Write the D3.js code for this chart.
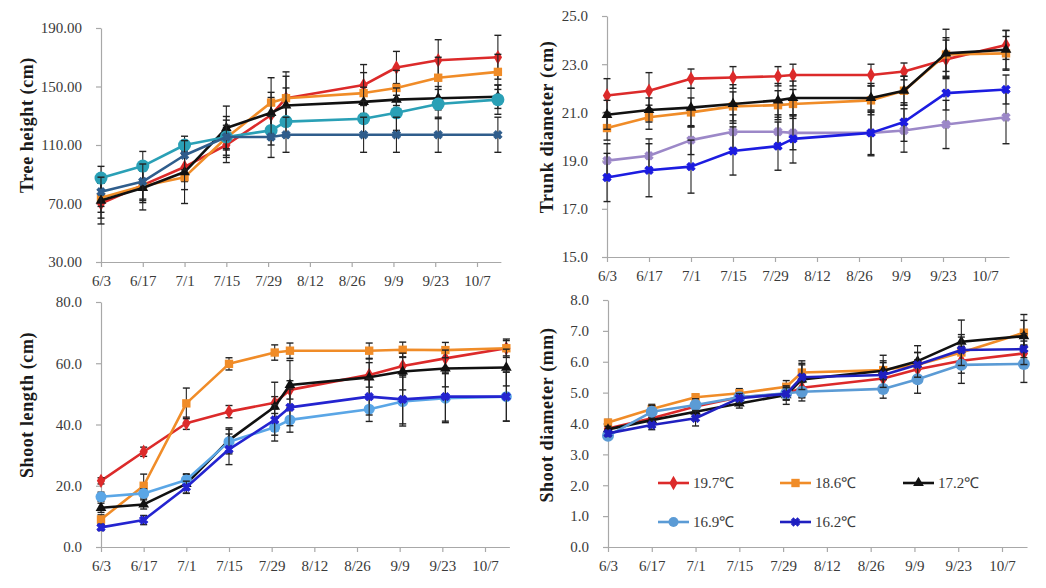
<!DOCTYPE html>
<html><head><meta charset="utf-8">
<script src="https://cdn.jsdelivr.net/npm/d3@7/dist/d3.min.js"></script>
<style>
html,body{margin:0;padding:0;background:#fff;}
svg{display:block;font-family:"Liberation Serif","Times New Roman",serif;}
</style></head>
<body><svg id="chart" width="1046" height="588"></svg>
<script>
// ---------- data ----------
const sampleDays = [0, 14, 28, 42, 57, 62, 88, 99, 113, 133]; // days after 6/3
const tickDays = [0, 14, 28, 42, 56, 70, 84, 98, 112, 126];
const tickLabels = ["6/3", "6/17", "7/1", "7/15", "7/29", "8/12", "8/26", "9/9", "9/23", "10/7"];
const seriesNames = ["19.7℃", "18.6℃", "17.2℃", "16.9℃", "16.2℃"];

const treeHeightMean = [
  [70, 82.6, 95, 110, 130.5, 142, 151, 163, 168, 170],
  [74, 82, 88, 115, 139, 142, 145.5, 149, 156, 160],
  [72, 80.6, 91.5, 121.6, 132, 137, 139.5, 141, 142, 143],
  [87.4, 95.6, 110, 115.5, 120, 126, 128, 132, 138, 141],
  [78, 85, 103, 115.5, 115.5, 117, 117, 117, 117, 117]
];
const treeHeightSD = [
  [14, 12, 10, 12, 12, 15, 14, 11, 14, 15],
  [10, 10, 18, 12, 17, 18, 14, 12, 14, 12],
  [12, 15, 12, 15, 14, 12, 10, 8, 8, 8],
  [8, 10, 6, 8, 10, 10, 12, 12, 10, 10],
  [10, 12, 10, 14, 14, 12, 12, 12, 12, 12]
];
const trunkDiaMean = [
  [21.7, 21.9, 22.4, 22.45, 22.5, 22.55, 22.55, 22.7, 23.2, 23.8],
  [20.35, 20.8, 21.0, 21.25, 21.3, 21.35, 21.5, 21.9, 23.4, 23.45],
  [20.9, 21.1, 21.2, 21.35, 21.5, 21.6, 21.6, 21.9, 23.45, 23.6],
  [19.0, 19.2, 19.85, 20.2, 20.2, 20.15, 20.15, 20.25, 20.5, 20.8],
  [18.3, 18.6, 18.75, 19.4, 19.6, 19.9, 20.15, 20.6, 21.8, 21.95]
];
const trunkDiaSD = [
  [0.7, 0.75, 0.4, 0.45, 0.4, 0.45, 0.45, 0.35, 0.8, 0.6],
  [0.5, 0.5, 0.6, 0.6, 0.6, 0.6, 0.6, 0.6, 0.7, 0.7],
  [0.6, 0.5, 0.8, 0.8, 0.7, 0.7, 0.6, 0.6, 1.0, 0.8],
  [0.7, 0.7, 0.6, 0.7, 0.7, 0.7, 0.9, 0.9, 1.0, 1.1],
  [1.0, 1.1, 1.1, 1.0, 1.0, 1.0, 0.95, 0.8, 0.7, 0.6]
];
const shootLenMean = [
  [21.6, 31.1, 40.4, 44.2, 47.1, 51.3, 56.2, 59.1, 61.6, 64.9],
  [9.0, 20.0, 46.9, 59.8, 63.5, 64.1, 64.1, 64.4, 64.3, 64.9],
  [12.8, 13.9, 20.6, 34.9, 45.8, 52.9, 55.4, 57.3, 58.3, 58.6],
  [16.4, 17.5, 21.9, 34.4, 39.1, 41.5, 45.0, 47.5, 48.6, 49.1],
  [6.4, 8.8, 19.5, 31.9, 41.5, 45.6, 49.1, 48.2, 49.1, 49.1]
];
const shootLenSD = [
  [1, 1.5, 2, 2, 2, 3, 4, 3, 3, 3],
  [1.5, 3.8, 5, 2, 2.5, 2.5, 2.5, 2.5, 2.5, 2.5],
  [1.5, 1.5, 3, 4, 8, 8, 6, 6, 6, 6],
  [1.5, 1.5, 2, 4, 4.5, 4, 4, 8, 8, 8],
  [1, 1.5, 2, 5, 5, 6, 6, 8, 8, 8]
];
const shootDiaMean = [
  [3.84, 4.17, 4.55, 4.85, 4.96, 5.16, 5.46, 5.76, 6.03, 6.27],
  [4.03, 4.47, 4.85, 4.98, 5.19, 5.65, 5.73, 5.9, 6.3, 6.94],
  [3.81, 4.11, 4.38, 4.65, 4.92, 5.43, 5.71, 6.02, 6.65, 6.83],
  [3.6, 4.38, 4.6, 4.85, 4.98, 5.03, 5.12, 5.43, 5.9, 5.93],
  [3.68, 3.95, 4.17, 4.82, 4.96, 5.5, 5.57, 5.9, 6.38, 6.41]
];
const shootDiaSD = [
  [0.1, 0.15, 0.15, 0.15, 0.2, 0.3, 0.3, 0.3, 0.4, 0.4],
  [0.1, 0.15, 0.1, 0.15, 0.2, 0.3, 0.3, 0.4, 0.5, 0.4],
  [0.1, 0.15, 0.15, 0.15, 0.3, 0.6, 0.5, 0.5, 0.7, 0.7],
  [0.1, 0.2, 0.2, 0.15, 0.2, 0.3, 0.3, 0.45, 0.6, 0.6],
  [0.1, 0.15, 0.25, 0.15, 0.2, 0.4, 0.4, 0.4, 0.5, 0.5]
];
const treeHeightTicks = [30, 70, 110, 150, 190];
const trunkDiaTicks = [15, 17, 19, 21, 23, 25];
const shootLenTicks = [0, 20, 40, 60, 80];
const shootDiaTicks = [0, 1, 2, 3, 4, 5, 6, 7, 8];

// ---------- styling ----------
const markers = ["diamond", "square", "triangle", "circle", "x"];

const panels = [
  {title: "Tree height (cm)", mean: treeHeightMean, sd: treeHeightSD, ticks: treeHeightTicks, fmt: ".2f",
   x0: 101, x126: 477, yTop: 28, yBot: 262, titleX: 27, titleY: 125,
   colors: ["#dc2a2a", "#f08c28", "#111111", "#2aa0b6", "#2f5d8c"], markers: markers, circleR: 6.5},
  {title: "Trunk diameter (cm)", mean: trunkDiaMean, sd: trunkDiaSD, ticks: trunkDiaTicks, fmt: ".1f",
   x0: 607, x126: 985, yTop: 16, yBot: 257, titleX: 547, titleY: 127,
   colors: ["#dc2a2a", "#f08c28", "#111111", "#9c88c8", "#1c1ce0"], markers: ["diamond","square","triangle","x","x"], circleR: 5},
  {title: "Shoot length (cm)", mean: shootLenMean, sd: shootLenSD, ticks: shootLenTicks, fmt: ".1f",
   x0: 101, x126: 485, yTop: 302, yBot: 547, titleX: 27, titleY: 405,
   colors: ["#dc2a2a", "#f08c28", "#111111", "#5aa6e6", "#2424d0"], markers: markers, circleR: 5.5},
  {title: "Shoot diameter (mm)", mean: shootDiaMean, sd: shootDiaSD, ticks: shootDiaTicks, fmt: ".1f",
   x0: 608, x126: 1002, yTop: 300, yBot: 547, titleX: 547, titleY: 415,
   colors: ["#dc2a2a", "#f08c28", "#111111", "#5b9bd5", "#2020c0"], markers: markers, circleR: 6}
];

const svg = d3.select("#chart");

function symbolPath(type, r) {
  const map = {diamond: d3.symbolDiamond, square: d3.symbolSquare, triangle: d3.symbolTriangle,
               circle: d3.symbolCircle, x: d3.symbolCross};
  const size = {diamond: 60, square: 70, triangle: 50, circle: Math.PI * r * r, x: 40}[type];
  return d3.symbol(map[type], size)();
}

panels.forEach((p, pi) => {
  const g = svg.append("g");
  const pxPerDay = (p.x126 - p.x0) / 126;
  const x = d3.scaleLinear().domain([0, 134]).range([p.x0, p.x0 + 134 * pxPerDay]);
  const ext = d3.extent(p.ticks);
  const y = d3.scaleLinear().domain(ext).range([p.yBot, p.yTop]);

  // axes
  const xAxis = d3.axisBottom(x).tickValues(tickDays).tickFormat((d, i) => tickLabels[i])
    .tickSizeInner(5).tickSizeOuter(0).tickPadding(8);
  const gx = g.append("g").attr("transform", `translate(0,${p.yBot})`).call(xAxis);
  const yAxis = d3.axisLeft(y).tickValues(p.ticks).tickFormat(d3.format(p.fmt))
    .tickSizeInner(5).tickSizeOuter(0).tickPadding(14);
  const gy = g.append("g").attr("transform", `translate(${p.x0},0)`).call(yAxis);
  [gx, gy].forEach(a => {
    a.select(".domain").attr("stroke", "#a8a8a8").attr("stroke-width", 1.2);
    a.selectAll(".tick line").attr("stroke", "#a8a8a8").attr("stroke-width", 1.2);
    a.selectAll(".tick text").attr("fill", "#3a3a3a").attr("font-size", 15)
      .attr("font-family", "'Liberation Serif', serif");
  });

  // title
  g.append("text").attr("transform", `translate(${p.titleX},${p.titleY}) rotate(-90)`)
    .attr("text-anchor", "middle").attr("dominant-baseline", "central")
    .attr("font-size", 18).attr("font-weight", "bold").attr("letter-spacing", 0.6).attr("fill", "#1a1a1a")
    .text(p.title);

  const line = d3.line().x((d, i) => x(sampleDays[i])).y(d => y(d));

  p.mean.forEach((vals, si) => {
    const col = p.colors[si];
    const sg = g.append("g");
    sg.append("path").datum(vals).attr("d", line).attr("fill", "none")
      .attr("stroke", col).attr("stroke-width", 2.6).attr("stroke-linejoin", "round");
    // error bars
    const eb = sg.selectAll(".eb").data(vals).enter().append("g");
    eb.append("line").attr("x1", (d, i) => x(sampleDays[i])).attr("x2", (d, i) => x(sampleDays[i]))
      .attr("y1", (d, i) => y(d - p.sd[si][i])).attr("y2", (d, i) => y(d + p.sd[si][i]))
      .attr("stroke", "#222").attr("stroke-width", 1.1);
    [-1, 1].forEach(sgn => {
      eb.append("line").attr("x1", (d, i) => x(sampleDays[i]) - 3.5).attr("x2", (d, i) => x(sampleDays[i]) + 3.5)
        .attr("y1", (d, i) => y(d + sgn * p.sd[si][i])).attr("y2", (d, i) => y(d + sgn * p.sd[si][i]))
        .attr("stroke", "#222").attr("stroke-width", 1.4);
    });
    // markers
    const mk = p.markers[si];
    sg.selectAll(".mk").data(vals).enter().append("path")
      .attr("d", symbolPath(mk, p.circleR))
      .attr("transform", (d, i) => `translate(${x(sampleDays[i])},${y(d)})${mk === "x" ? " rotate(45)" : ""}`)
      .attr("fill", col).attr("stroke", mk === "x" ? col : "none").attr("stroke-width", 1);
  });

  // legend in the last panel
  if (pi === 3) {
    const legPos = [[658, 483], [780, 483], [903, 483], [658, 522], [780, 522]];
    seriesNames.forEach((name, si) => {
      const [lx, ly] = legPos[si];
      const col = p.colors[si];
      const lg = svg.append("g");
      lg.append("line").attr("x1", lx).attr("x2", lx + 31).attr("y1", ly).attr("y2", ly)
        .attr("stroke", col).attr("stroke-width", 2.6);
      const mk = p.markers[si];
      lg.append("path").attr("d", symbolPath(mk, 5))
        .attr("transform", `translate(${lx + 15.5},${ly})${mk === "x" ? " rotate(45)" : ""}`)
        .attr("fill", col).attr("stroke", mk === "x" ? col : "none");
      lg.append("text").attr("x", lx + 35).attr("y", ly).attr("dominant-baseline", "central")
        .attr("font-size", 15).attr("fill", "#3a3a3a").text(name);
    });
  }
});
</script></body></html>
